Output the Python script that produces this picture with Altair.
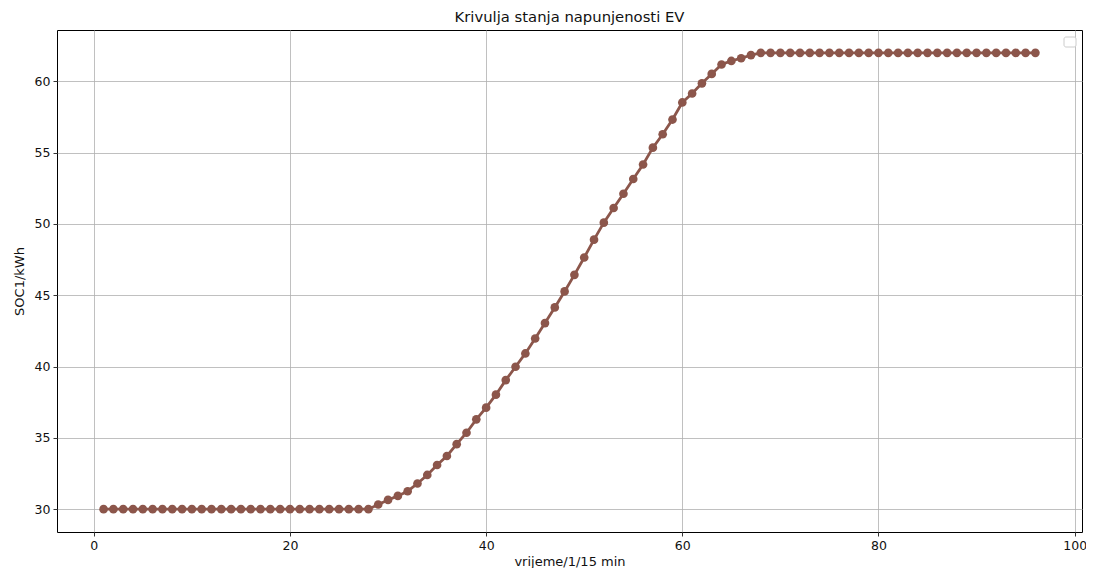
import altair as alt
import pandas as pd

# x: vrijeme (1..96, 15-min steps)
t = list(range(1, 97))
# SOC values
soc_flat_start = [30.0] * 28
soc_rise = [30.33, 30.65, 30.93, 31.26, 31.80, 32.40, 33.10, 33.73, 34.56, 35.36,
            36.30, 37.12, 38.03, 39.05, 39.99, 40.92, 41.97, 43.05, 44.15, 45.27,
            46.43, 47.65, 48.90, 50.09, 51.12, 52.12, 53.15, 54.17, 55.35, 56.29,
            57.32, 58.52, 59.15, 59.86, 60.52, 61.18, 61.43, 61.62, 61.84]
soc_flat_end = [62.0] * 29
soc = soc_flat_start + soc_rise + soc_flat_end

x_ticks = [0, 20, 40, 60, 80, 100]
y_ticks = [30, 35, 40, 45, 50, 55, 60]

df = pd.DataFrame({"t": t, "soc": soc})

COLOR = "#8c564b"
FONT = "DejaVu Sans"

xscale = alt.Scale(domain=[-3.75, 100.75], nice=False, zero=False)
yscale = alt.Scale(domain=[28.4, 63.6], nice=False, zero=False)

base = alt.Chart(df).encode(
    x=alt.X("t:Q", scale=xscale, title="vrijeme/1/15 min",
            axis=alt.Axis(values=x_ticks, format="d")),
    y=alt.Y("soc:Q", scale=yscale, title="SOC1/kWh",
            axis=alt.Axis(values=y_ticks, format="d")),
)

line = base.mark_line(color=COLOR, strokeWidth=2.8)
pts = base.mark_point(color=COLOR, filled=True, shape="circle", size=75, opacity=1)

legend_box = alt.Chart(pd.DataFrame({"a": [0]})).mark_rect(
    fill="white", stroke="#cccccc", strokeWidth=1, cornerRadius=2
).encode(
    x=alt.value(1007), x2=alt.value(1019), y=alt.value(7), y2=alt.value(17)
)

chart = alt.layer(line, pts, legend_box).properties(
    width=1025, height=502,
    title="Krivulja stanja napunjenosti EV",
    autosize=alt.AutoSizeParams(type="none"),
    padding={"left": 49, "top": 22, "right": 4, "bottom": 36},
).configure_view(
    stroke="black", strokeWidth=1
).configure_axis(
    domain=False,
    grid=True, gridColor="#b0b0b0", gridWidth=0.8,
    tickColor="black", tickSize=4, tickWidth=0.8,
    labelFont=FONT, labelFontSize=12.5, labelColor="#111111",
    titleFont=FONT, titleFontSize=13, titleFontWeight="normal", titleColor="#111111",
).configure_axisX(
    labelPadding=3, titlePadding=4
).configure_axisY(
    labelPadding=3, titlePadding=8
).configure_title(
    font=FONT, fontSize=14.8, fontWeight="normal", color="#111111", anchor="middle", offset=5
)

chart.save("out.html", embed_options={"renderer": "svg", "actions": False})
